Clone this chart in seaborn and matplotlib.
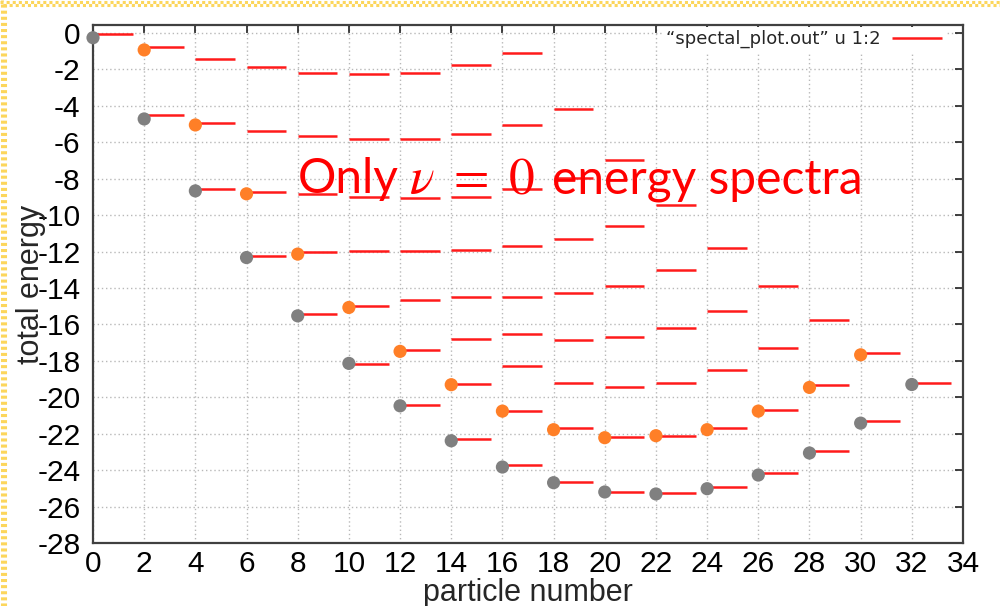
import numpy as np
import pandas as pd
import matplotlib
matplotlib.use("Agg")
import matplotlib.pyplot as plt
from matplotlib.lines import Line2D
import seaborn as sns

# Energy levels (total energy) for each even particle number
levels_n0 = [-0.05]
levels_n2 = [-0.75, -4.52]
levels_n4 = [-1.44, -4.96, -8.56]
levels_n6 = [-1.87, -5.38, -8.74, -12.24]
levels_n8 = [-2.18, -5.63, -8.85, -12.05, -15.42]
levels_n10 = [-2.27, -5.80, -8.98, -11.96, -14.98, -18.16]
levels_n12 = [-2.18, -5.80, -9.07, -11.96, -14.65, -17.39, -20.45]
levels_n14 = [-1.77, -5.56, -8.98, -11.91, -14.47, -16.79, -19.28, -22.28]
levels_n16 = [-1.08, -5.05, -8.56, -11.72, -14.47, -16.53, -18.31, -20.74, -23.74]
levels_n18 = [-4.17, -7.97, -11.30, -14.28, -16.86, -19.19, -21.67, -24.67]
levels_n20 = [-7.00, -10.59, -13.88, -16.68, -19.42, -22.19, -25.20]
levels_n22 = [-9.47, -13.00, -16.17, -19.19, -22.10, -25.28]
levels_n24 = [-11.82, -15.24, -18.51, -21.69, -24.93]
levels_n26 = [-13.88, -17.30, -20.72, -24.16]
levels_n28 = [-15.75, -19.35, -22.95]
levels_n30 = [-17.56, -21.33]
levels_n32 = [-19.19]

particle_numbers = list(range(0, 33, 2))
all_levels = [levels_n0, levels_n2, levels_n4, levels_n6, levels_n8, levels_n10,
              levels_n12, levels_n14, levels_n16, levels_n18, levels_n20,
              levels_n22, levels_n24, levels_n26, levels_n28, levels_n30,
              levels_n32]

# Highlighted states: lowest (gray) and first excited (orange)
ground_n = [0, 2, 4, 6, 8, 10, 12, 14, 16, 18, 20, 22, 24, 26, 28, 30, 32]
ground_e = [-0.26, -4.72, -8.67, -12.33, -15.53, -18.14, -20.47, -22.39, -23.83,
            -24.69, -25.20, -25.31, -25.02, -24.27, -23.06, -21.42, -19.30]
excited_n = [2, 4, 6, 8, 10, 12, 14, 16, 18, 20, 22, 24, 26, 28, 30]
excited_e = [-0.93, -5.05, -8.83, -12.14, -15.07, -17.48, -19.31, -20.76, -21.78,
             -22.22, -22.11, -21.78, -20.76, -19.46, -17.67]

x_ticks = list(range(0, 35, 2))
y_ticks = list(range(-28, 1, 2))

legend_label = "\u201cspectal_plot.out\u201d u 1:2"
# Annotation pieces: plain words and the math symbols in between
note_words = ["Only", "energy spectra"]
note_math = [r"$\nu$", "=", r"$0$"]

SEG_WIDTH = 1.55

rows = [(n, e) for n, lv in zip(particle_numbers, all_levels) for e in lv]
df = pd.DataFrame(rows, columns=["particle number", "total energy"])

sns.set_theme(style="white")
plt.rcParams["font.family"] = ["Liberation Sans", "DejaVu Sans"]
plt.rcParams["axes.unicode_minus"] = False
plt.rcParams["mathtext.fontset"] = "stix"

fig = plt.figure(figsize=(10, 6.06), dpi=100)
ax = fig.add_axes([0.093, 0.104, 0.87, 0.8548])

ax.hlines(df["total energy"], df["particle number"],
          df["particle number"] + SEG_WIDTH,
          colors="#ff1a1a", lw=1.8, zorder=3, label=legend_label)

sns.scatterplot(x=ground_n, y=ground_e, color="#808080", s=90,
                edgecolor="none", ax=ax, zorder=4, legend=False, clip_on=False)
sns.scatterplot(x=excited_n, y=excited_e, color="#ff7f27", s=90,
                edgecolor="none", ax=ax, zorder=4, legend=False, clip_on=False)

ax.set_xlim(0, 34)
ax.set_ylim(-28, 0.44)
ax.set_xticks(x_ticks)
ax.set_yticks(y_ticks)
ax.set_xticklabels([str(t) for t in x_ticks])
ax.set_yticklabels([str(t) for t in y_ticks])

ax.grid(True, color="#b8b8b8", linestyle=(0, (1, 2)), lw=1.0)
ax.set_axisbelow(True)
for s in ax.spines.values():
    s.set_visible(True)
    s.set_color("#404040")
    s.set_linewidth(1.6)

ax.tick_params(axis="both", direction="in", top=True, right=True,
               length=6, width=1.2, color="#202020", labelsize=21.5,
               labelcolor="#000000")
ax.tick_params(axis="y", pad=9)
ax.tick_params(axis="x", pad=5)

ax.set_xlabel("particle number", fontsize=22, labelpad=0)
ax.set_ylabel("total energy", fontsize=22)
ax.yaxis.set_label_coords(-0.054, 0.5)

ax.legend(loc="upper right", bbox_to_anchor=(0.9805, 0.997),
          borderaxespad=0, frameon=True, fancybox=False, facecolor="white",
          edgecolor="none", framealpha=1,
          prop={"family": "DejaVu Sans", "size": 13}, handlelength=2.8,
          handletextpad=0.6, markerfirst=False, borderpad=0.2)

# Red annotation across the upper part of the plot
W, H = 1000, 606
base_y = 1 - 193 / H
text_kw = dict(color="#ff0000", ha="left", va="baseline", zorder=10)
fig.text(298 / W, base_y, note_words[0], fontsize=34.5, family="Lato", **text_kw)
fig.text(409 / W, base_y, note_math[0], fontsize=37, **text_kw)
fig.text(453 / W, base_y, note_math[1], fontsize=37, family="STIXGeneral", **text_kw)
fig.text(508 / W, base_y, note_math[2], fontsize=37, **text_kw)
fig.text(552 / W, base_y, note_words[1], fontsize=34.5, family="Lato", **text_kw)

# Dotted selection frame along the top and left edges
frame_color = "#fcd65c"
for off, row in ((0, 1.5), (3, 4.5)):
    fig.add_artist(Line2D([off / W, 1], [1 - row / H, 1 - row / H],
                          transform=fig.transFigure, color=frame_color,
                          lw=2.2, linestyle=(0, (1, 1)), solid_capstyle="butt"))
    fig.add_artist(Line2D([row / W, row / W], [0, 1 - off / H],
                          transform=fig.transFigure, color=frame_color,
                          lw=2.2, linestyle=(0, (1, 1)), solid_capstyle="butt"))

fig.savefig("out.png", dpi=100)
